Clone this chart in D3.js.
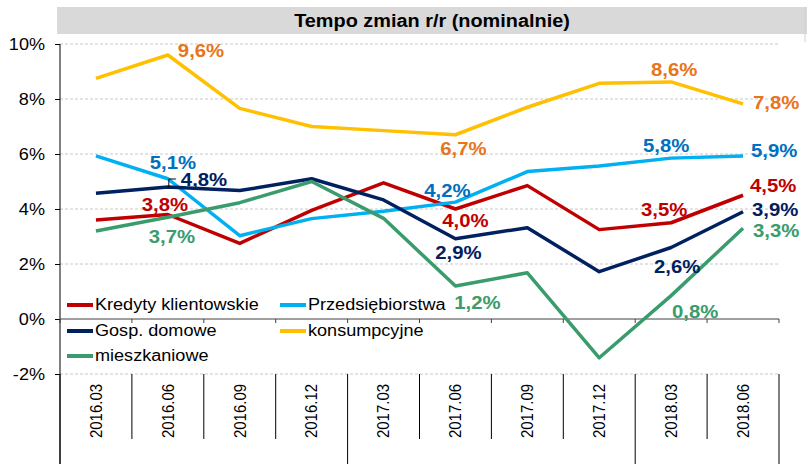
<!DOCTYPE html>
<html>
<head>
<meta charset="utf-8">
<script src="https://cdn.jsdelivr.net/npm/d3@7"></script>
<style>
    body { margin: 0; background: #fff; }
    text { font-family: "Liberation Sans", Arial, sans-serif; }
</style>
</head>
<body>
<svg id="chart" width="807" height="464"></svg>
<script>
var categories = ["2016.03", "2016.06", "2016.09", "2016.12", "2017.03", "2017.06", "2017.09", "2017.12", "2018.03", "2018.06"];
var years = [{name: "2016", count: 4}, {name: "2017", count: 4}, {name: "2018", count: 2}];

var kredyty = [3.6, 3.8, 2.75, 3.95, 4.95, 4.0, 4.85, 3.25, 3.5, 4.5];
var przedsiebiorstwa = [5.93, 5.1, 3.03, 3.65, 3.92, 4.25, 5.36, 5.56, 5.85, 5.93];
var gospDomowe = [4.57, 4.8, 4.67, 5.1, 4.33, 2.92, 3.32, 1.72, 2.6, 3.9];
var konsumpcyjne = [8.75, 9.6, 7.66, 7.0, 6.85, 6.7, 7.7, 8.57, 8.62, 7.82];
var mieszkaniowe = [3.2, 3.7, 4.23, 5.0, 3.66, 1.2, 1.68, -1.41, 0.85, 3.3];

var yTicks = [-2, 0, 2, 4, 6, 8, 10];

// which points carry a value label, and the printed text
var labelIdx = [1, 5, 8, 9];
var kredytyLabels = ["3,8%", "4,0%", "3,5%", "4,5%"];
var przedsLabels = ["5,1%", "4,2%", "5,8%", "5,9%"];
var gospLabels = ["4,8%", "2,9%", "2,6%", "3,9%"];
var konsumLabels = ["9,6%", "6,7%", "8,6%", "7,8%"];
var mieszkLabels = ["3,7%", "1,2%", "0,8%", "3,3%"];

var series = [
    {name: "Kredyty klientowskie", values: kredyty, labels: kredytyLabels, color: "#c00000", labelColor: "#c00000",
        place: [[-3, -10, "middle"], [10, 12, "middle"], [-7, -13, "middle"], [7, -9, "start"]]},
    {name: "Przedsiębiorstwa", values: przedsiebiorstwa, labels: przedsLabels, color: "#00b0f0", labelColor: "#0070c0",
        place: [[5, -16, "middle"], [-8, -11, "middle"], [-5, -12, "middle"], [8, -5, "start"]]},
    {name: "Gosp. domowe", values: gospDomowe, labels: gospLabels, color: "#002060", labelColor: "#002060",
        place: [[13, -7, "start"], [3, 14, "middle"], [6, 19, "middle"], [9, -2, "start"]]},
    {name: "konsumpcyjne", values: konsumpcyjne, labels: konsumLabels, color: "#ffc000", labelColor: "#e8741c",
        place: [[10, -4, "start"], [8, 14, "middle"], [3, -12, "middle"], [10, -1, "start"]]},
    {name: "mieszkaniowe", values: mieszkaniowe, labels: mieszkLabels, color: "#3a9c6c", labelColor: "#3a9c6c",
        place: [[4, 20, "middle"], [22, 17, "middle"], [24, 16, "middle"], [10, 3, "start"]]}
];

var sx = 1.13; // the picture is a bit stretched sideways
var svg = d3.select("#chart");
var plotLeft = 60, plotRight = 779, plotTop = 44, plotBottom = 374;

var x = d3.scaleBand().domain(categories).range([plotLeft, plotRight]);
var y = d3.scaleLinear().domain([-2, 10]).range([plotBottom, plotTop]);

function stretchText(sel, px, py) {
    return sel.attr("transform", "translate(" + px + "," + py + ") scale(" + sx + ",1)");
}

// title box
svg.append("rect")
    .attr("x", 57).attr("y", 7)
    .attr("width", 750).attr("height", 27)
    .attr("fill", "#d9d9d9");
svg.append("line")
    .attr("x1", 805).attr("x2", 805).attr("y1", 7).attr("y2", 42)
    .attr("stroke", "#d0d0d0");
stretchText(svg.append("text"), 432, 21)
    .attr("text-anchor", "middle")
    .attr("dominant-baseline", "central")
    .attr("font-size", "17.6px")
    .attr("font-weight", "bold")
    .attr("fill", "#000")
    .text("Tempo zmian r/r (nominalnie)");

// gridlines
svg.append("g")
    .selectAll("line")
    .data(yTicks.filter(function (d) { return d !== 0; }))
    .enter().append("line")
    .attr("x1", plotLeft).attr("x2", plotRight)
    .attr("y1", function (d) { return y(d); })
    .attr("y2", function (d) { return y(d); })
    .attr("stroke", "#c8c8c8")
    .attr("stroke-dasharray", "3,2");

// y axis
var yAxis = d3.axisLeft(y)
    .tickValues(yTicks)
    .tickSize(5)
    .tickPadding(0)
    .tickFormat(function (d) { return d + "%"; });
var gy = svg.append("g")
    .attr("transform", "translate(" + plotLeft + ",0)")
    .call(yAxis);
gy.select(".domain").remove();
gy.selectAll(".tick line").attr("stroke", "#000");
gy.selectAll(".tick text")
    .attr("x", null).attr("dy", null)
    .attr("text-anchor", "end")
    .attr("dominant-baseline", "central")
    .attr("font-size", "16px")
    .attr("font-family", "'Liberation Sans', Arial, sans-serif")
    .attr("fill", "#000")
    .attr("transform", "translate(-15,0) scale(" + sx + ",1)");
svg.append("line")
    .attr("x1", plotLeft).attr("x2", plotLeft)
    .attr("y1", plotTop).attr("y2", 464)
    .attr("stroke", "#000");

// zero line with small ticks at category boundaries
var boundaries = categories.map(function (c) { return x(c); }).concat([plotRight]);
svg.append("line")
    .attr("x1", plotLeft).attr("x2", plotRight)
    .attr("y1", y(0)).attr("y2", y(0))
    .attr("stroke", "#404040")
    .attr("stroke-width", 1.2);
svg.append("g")
    .selectAll("line")
    .data(boundaries)
    .enter().append("line")
    .attr("x1", function (d) { return d; })
    .attr("x2", function (d) { return d; })
    .attr("y1", y(0)).attr("y2", y(0) + 4)
    .attr("stroke", "#404040");

// category labels at the bottom
var yearEdges = [0];
years.forEach(function (yr) { yearEdges.push(yearEdges[yearEdges.length - 1] + yr.count); });
svg.append("g")
    .selectAll("line")
    .data(d3.range(categories.length + 1))
    .enter().append("line")
    .attr("x1", function (i) { return boundaries[i]; })
    .attr("x2", function (i) { return boundaries[i]; })
    .attr("y1", plotBottom)
    .attr("y2", function (i) { return yearEdges.indexOf(i) >= 0 ? 464 : 439; })
    .attr("stroke", "#000");
svg.append("g")
    .selectAll("text")
    .data(categories)
    .enter().append("text")
    .attr("transform", function (d) {
        return "translate(" + (x(d) + x.bandwidth() / 2) + ",411) rotate(-90) scale(1,1.1)";
    })
    .attr("text-anchor", "middle")
    .attr("dominant-baseline", "central")
    .attr("font-size", "15px")
    .attr("fill", "#000")
    .text(function (d) { return d; });

// lines
var line = d3.line()
    .x(function (d, i) { return x(categories[i]) + x.bandwidth() / 2; })
    .y(function (d) { return y(d); });

svg.append("g")
    .selectAll("path")
    .data(series)
    .enter().append("path")
    .attr("d", function (s) { return line(s.values); })
    .attr("fill", "none")
    .attr("stroke", function (s) { return s.color; })
    .attr("stroke-width", 3.5)
    .attr("stroke-linejoin", "round");

// value labels
series.forEach(function (s) {
    labelIdx.forEach(function (idx, k) {
        var px = x(categories[idx]) + x.bandwidth() / 2;
        var py = y(s.values[idx]);
        var p = s.place[k];
        stretchText(svg.append("text"), px + p[0], py + p[1])
            .attr("text-anchor", p[2])
            .attr("dominant-baseline", "central")
            .attr("font-size", "18px")
            .attr("font-weight", "bold")
            .attr("fill", s.labelColor)
            .text(s.labels[k]);
    });
});

// tiny leader mark next to the 4,8% label
var lx = x(categories[1]) + x.bandwidth() / 2, ly = y(gospDomowe[1]);
svg.append("path")
    .attr("d", "M" + (lx + 1) + "," + ly + "v-8h7")
    .attr("fill", "none")
    .attr("stroke", "#000")
    .attr("stroke-width", 1);

// legend
var legendPos = [[67, 305], [280, 305], [67, 331], [280, 331], [67, 356]];
var legend = svg.append("g")
    .selectAll("g")
    .data(series)
    .enter().append("g")
    .attr("transform", function (s, i) { return "translate(" + legendPos[i][0] + "," + legendPos[i][1] + ")"; });
legend.append("line")
    .attr("x1", 0).attr("x2", 26)
    .attr("stroke", function (s) { return s.color; })
    .attr("stroke-width", 4);
legend.append("text")
    .attr("transform", "translate(28,0) scale(" + sx + ",1)")
    .attr("dominant-baseline", "central")
    .attr("font-size", "16px")
    .attr("fill", "#000")
    .text(function (s) { return s.name; });
</script>
</body>
</html>
